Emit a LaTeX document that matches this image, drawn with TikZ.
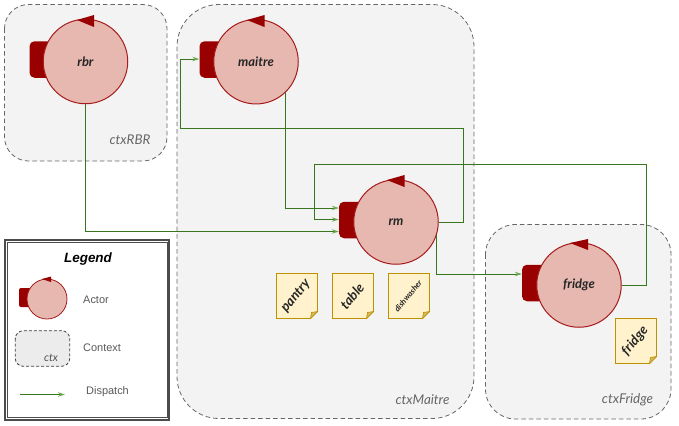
\documentclass[tikz,border=0pt]{standalone}
\usepackage{fontspec}
\setmainfont{Liberation Sans}
\newfontfamily\handfont{Lato}
\usetikzlibrary{arrows.meta}
\definecolor{actfill}{HTML}{E6B8AF}
\definecolor{actdark}{HTML}{990000}
\definecolor{actline}{HTML}{A61C1C}
\definecolor{ctxfill}{HTML}{F3F3F3}
\definecolor{ctxline}{HTML}{666666}
\definecolor{notefill}{HTML}{FFF2CC}
\definecolor{noteline}{HTML}{BF9000}
\definecolor{wire}{HTML}{38761D}
\definecolor{tip}{HTML}{6AA84F}
\definecolor{legtext}{HTML}{595959}
\tikzset{
  x=1bp,y=-1bp,
  ctxbox/.style={draw=ctxline,fill=ctxfill,line width=0.8bp,dash pattern=on 4.5bp off 3bp},
  actorc/.style={circle,draw=actline,fill=actfill,line width=1bp,inner sep=0pt,minimum size=84.5bp,font=\handfont\itshape\bfseries\fontsize{13}{15}\selectfont,text=black!85},
  tabbox/.style={fill=actdark,rounded corners=5bp,inner sep=0pt,minimum width=24bp,minimum height=36.5bp},
  headtri/.style={fill=actdark,draw=none},
  ctxlabel/.style={font=\handfont\itshape\fontsize{13.5}{15}\selectfont,text=ctxline,inner sep=0pt},
  wireline/.style={draw=wire,line width=1bp,-{Stealth[length=7bp,width=4.5bp,color=tip]}},
  legendlabel/.style={font=\fontsize{11}{13}\selectfont,text=legtext,inner sep=0pt,anchor=west},
  notetext/.style={rotate=50,font=\handfont\itshape\bfseries\fontsize{#1}{15}\selectfont,text=black!85,inner sep=0pt}
}
\newcommand{\notebox}[5]{%
  \begin{scope}[shift={(#2,#3)}]
    \filldraw[draw=noteline,fill=notefill,line width=0.9bp] (-20.5,-22.5) -- (20.5,-22.5) -- (20.5,15.5) -- (13.5,22.5) -- (-20.5,22.5) -- cycle;
    \filldraw[draw=noteline,fill=noteline!65,line width=0.6bp] (20.5,15.5) -- (14.5,16.5) -- (13.5,22.5) -- cycle;
    \node[notetext=#5] (#1) at (-1,0) {#4};
  \end{scope}}
\begin{document}
\begin{tikzpicture}
\useasboundingbox (0,0) rectangle (679,425);
% contexts
\draw[ctxbox,rounded corners=24bp] (4.5,4.5) rectangle (167,161);
\draw[ctxbox,rounded corners=42bp] (177,4.5) rectangle (474,418.5);
\draw[ctxbox,rounded corners=30bp] (485.5,224.5) rectangle (671,419);
\node[ctxlabel] (lblrbr) at (130,139.5) {ctxRBR};
\node[ctxlabel] (lblmaitre) at (422.5,399.5) {ctxMaitre};
\node[ctxlabel] (lblfridge) at (627.5,399.5) {ctxFridge};
% actors
\node[tabbox] (rbrtab) at (41.5,59.5) {};
\node[tabbox] (maitretab) at (211.5,59.5) {};
\node[tabbox] (rmtab) at (351,220) {};
\node[tabbox] (fridgetab) at (534,283) {};
\node[actorc] (rbr) at (85.5,61.5) {rbr};
\node[actorc] (maitre) at (256,61.7) {maitre};
\node[actorc] (rm) at (396,222) {rm};
\node[actorc] (fridge) at (579,285) {fridge};
\fill[headtri] (94,15) -- (94,27) -- (77,20) -- cycle;
\fill[headtri] (264.5,15) -- (264.5,27) -- (247,20) -- cycle;
\fill[headtri] (404.5,175) -- (404.5,187) -- (387,180) -- cycle;
\fill[headtri] (588,239) -- (588,250) -- (570,243) -- cycle;
% notes
\notebox{pantry}{297}{296}{pantry}{13.5}
\notebox{table}{353}{296}{table}{13.5}
\notebox{dishwasher}{409}{296}{dishwasher}{8}
\notebox{fridgenote}{636}{341}{fridge}{13.5}
% connectors
\coordinate (a2) at (463,128);
\coordinate (a4) at (180,59);
\coordinate (b2) at (646,164);
\coordinate (b3) at (314.7,164);
\coordinate (c1) at (285.7,92);
\coordinate (d1) at (436.5,235);
\coordinate (d2) at (436.5,274);
\draw[wireline] (rbr.south) |- ([yshift=-11.5bp]rmtab.west);
\draw[wireline] (c1) |- ([yshift=12bp]rmtab.west);
\draw[wireline] (rm.east) -| (a2) -- (a2 -| a4) -- (a4) -- (a4 -| maitretab.west);
\draw[wireline] (fridge.east) -| (b2) -- (b3) |- ([yshift=0.5bp]rmtab.west);
\draw[wireline] (d1) -- (d2) -- (d2 -| fridgetab.west);
% legend
\draw[draw=black!70,line width=1.6bp] (5,240) rectangle (169,420);
\draw[draw=black!70,line width=1bp] (7.5,242.3) rectangle (167,417.7);
\node[font=\bfseries\itshape\fontsize{13.5}{15}\selectfont,text=black,inner sep=0pt] (legendtitle) at (88,259) {Legend};
\node[fill=actdark,rounded corners=2bp,inner sep=0pt,minimum width=12bp,minimum height=19bp] (legtab) at (25,297.5) {};
\node[circle,draw=actline,fill=actfill,line width=0.8bp,inner sep=0pt,minimum size=40bp] (legactor) at (47,299) {};
\fill[headtri] (51,276.5) -- (51,282) -- (42,279) -- cycle;
\node[legendlabel] (legactortext) at (83,300) {Actor};
\draw[ctxbox,rounded corners=8bp,fill=ctxfill!97!black,draw=black!75,dash pattern=on 3bp off 2bp] (15.3,330.7) rectangle (69.7,366.3);
\node[font=\handfont\itshape\fontsize{11}{13}\selectfont,text=ctxline!80!black,inner sep=0pt] (legctx) at (51,357.5) {ctx};
\node[legendlabel] (legctxtext) at (83,348) {Context};
\coordinate (ls) at (20,394.5);
\coordinate (le) at (65,394.5);
\draw[wireline] (ls) -- (le);
\node[legendlabel] (legdisp) at (86,391.5) {Dispatch};
\end{tikzpicture}
\end{document}
